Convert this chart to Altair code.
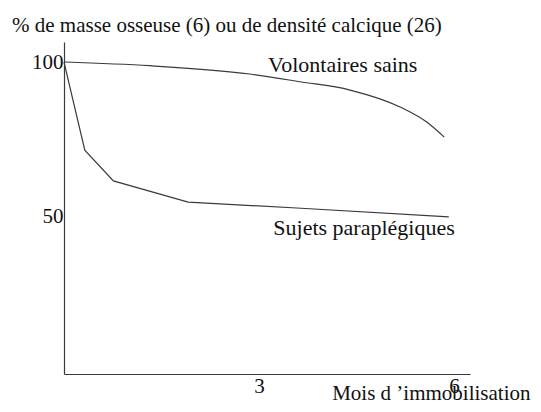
import altair as alt
import pandas as pd

# Data (months of immobilisation, % of bone mass)
vol_x = [0, 1.32, 2.86, 3.63, 4.40, 5.17, 5.58, 5.85]
vol_y = [100, 98.8, 96.1, 93.6, 90.9, 85.4, 80.5, 75.6]
para_x = [0, 0.32, 0.76, 1.91, 3.58, 5.92]
para_y = [100, 71.4, 61.4, 54.5, 52.6, 49.7]

label_text = ["Volontaires sains", "Sujets paraplégiques"]
label_x = [3.14, 3.22]
label_y = [99.0, 46.1]

x_ticks = [3, 6]
y_ticks = [50, 100]

FONT = "Liberation Serif"
INK = "#3a3a3a"

vol = pd.DataFrame({"mois": vol_x, "pct": vol_y, "ordre": range(len(vol_x))})
para = pd.DataFrame({"mois": para_x, "pct": para_y, "ordre": range(len(para_x))})
labels = pd.DataFrame({"txt": label_text, "mois": label_x, "pct": label_y})

xscale = alt.Scale(domain=[0, 6.246], nice=False, zero=False)
yscale = alt.Scale(domain=[-1.3, 106.5], nice=False, zero=False)

xaxis = alt.Axis(values=x_ticks, format="d", ticks=False, grid=False, labelPadding=1,
                 title="Mois d \u2019immobilisation", titleAnchor="end",
                 titleAlign="right", titleX=466, titleY=25,
                 titleBaseline="alphabetic", titleFontWeight="normal")
yaxis = alt.Axis(values=y_ticks, format="d", ticks=False, grid=False, labelPadding=1, title=None)

vol_line = alt.Chart(vol).mark_line(interpolate="monotone", strokeWidth=1.2, color=INK).encode(
    x=alt.X("mois:Q", scale=xscale, axis=xaxis),
    y=alt.Y("pct:Q", scale=yscale, axis=yaxis),
    order="ordre:Q",
)
para_line = alt.Chart(para).mark_line(interpolate="linear", strokeWidth=1.2, color=INK).encode(
    x=alt.X("mois:Q", scale=xscale),
    y=alt.Y("pct:Q", scale=yscale),
    order="ordre:Q",
)

texts = alt.Chart(labels).mark_text(align="left", baseline="middle", font=FONT,
                                     fontSize=22, color="#111").encode(
    x=alt.X("mois:Q", scale=xscale),
    y=alt.Y("pct:Q", scale=yscale),
    text="txt:N",
)

chart = alt.layer(vol_line, para_line, texts).properties(
    width=406,
    height=332,
    autosize=alt.AutoSizeParams(type="none"),
    padding={"left": 56, "top": 34, "right": 63, "bottom": 30},
    title=alt.TitleParams(
        "% de masse osseuse (6) ou de densité calcique (26)",
        anchor="start", frame="group", dx=-52, font=FONT, fontSize=21, fontWeight="normal",
        color="#111", offset=6,
    ),
).configure_view(stroke=None).configure_axis(
    domainColor=INK, domainWidth=1.2, labelFont=FONT, labelFontSize=21,
    labelColor="#111", titleFont=FONT, titleFontSize=21, titleColor="#111",
)

chart.save("out.html", embed_options={"renderer": "svg", "actions": False})
